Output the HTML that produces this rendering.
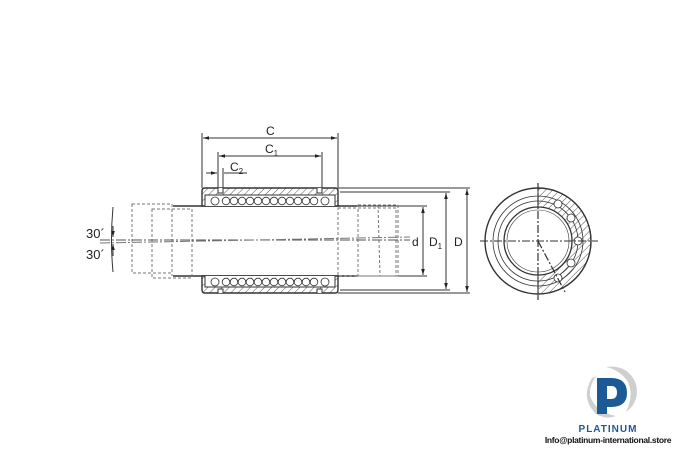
<!DOCTYPE html>
<html><head><meta charset="utf-8"><style>
html,body{margin:0;padding:0;background:#fff}
svg{display:block}
text{font-family:"Liberation Sans",sans-serif;fill:#222}
</style></head><body>
<svg width="675" height="450" viewBox="0 0 675 450" xmlns="http://www.w3.org/2000/svg">
<defs>
<pattern id="h" width="5" height="5" patternUnits="userSpaceOnUse" patternTransform="rotate(45)">
<rect width="5" height="5" fill="#fff"/><line x1="0" y1="0" x2="0" y2="5" stroke="#555" stroke-width="1"/></pattern>
<marker id="a" viewBox="0 0 10 10" refX="10" refY="5" markerWidth="6" markerHeight="6" orient="auto-start-reverse"><path d="M0,2 L10,5 L0,8z" fill="#222"/></marker>
</defs>
<g stroke="#333" fill="none" stroke-width="1">
<line x1="202" y1="133" x2="202" y2="188"/><line x1="338" y1="133" x2="338" y2="188"/>
<line x1="203" y1="138" x2="337" y2="138" marker-start="url(#a)" marker-end="url(#a)"/>
<line x1="218" y1="152" x2="218" y2="190"/><line x1="322" y1="152" x2="322" y2="188"/>
<line x1="219" y1="156" x2="321" y2="156" marker-start="url(#a)" marker-end="url(#a)"/>
<line x1="223" y1="168" x2="223" y2="190"/>
<line x1="206" y1="173" x2="217" y2="173" marker-end="url(#a)"/>
<line x1="224" y1="173" x2="247" y2="173"/>
<line x1="338" y1="188" x2="470" y2="188"/><line x1="338" y1="293" x2="470" y2="293"/>
<line x1="340" y1="192" x2="450" y2="192"/><line x1="340" y1="290" x2="450" y2="290"/>
<line x1="357" y1="206" x2="427" y2="206"/><line x1="357" y1="276" x2="427" y2="276"/>
<line x1="467" y1="189" x2="467" y2="292" marker-start="url(#a)" marker-end="url(#a)"/>
<line x1="446" y1="193" x2="446" y2="289" marker-start="url(#a)" marker-end="url(#a)"/>
<line x1="423" y1="207" x2="423" y2="275" marker-start="url(#a)" marker-end="url(#a)"/>
<line x1="173" y1="206" x2="357" y2="206" stroke-width="1.6"/>
<line x1="173" y1="276" x2="357" y2="276" stroke-width="1.6"/>
<g stroke-dasharray="3,2" stroke="#777">
<rect x="132" y="204" width="40" height="69"/>
<rect x="152" y="209" width="40" height="69"/>
<line x1="172" y1="209" x2="172" y2="276"/>
<rect x="358" y="205" width="40" height="71"/>
<rect x="338" y="208" width="58" height="68"/>
<line x1="378" y1="205" x2="380" y2="276"/>
</g>
<line x1="100" y1="240" x2="410" y2="240" stroke-dasharray="10,2,2,2" stroke="#555"/>
<line x1="100" y1="243" x2="410" y2="237" stroke-dasharray="10,2,2,2" stroke="#777"/>
<path d="M113 207 Q110 240 113 272" />
<line x1="113" y1="226" x2="113" y2="237" marker-end="url(#a)"/>
<line x1="113" y1="256" x2="113" y2="244" marker-end="url(#a)"/>
<path d="M205 188 H335 Q338 188 338 191 V206 H202 V191 Q202 188 205 188Z" fill="url(#h)" stroke-width="1.4"/>
<path d="M205 206 V195 H335 V206" fill="#fff"/>
<path d="M218 188 V193 H223 V188" fill="#fff"/>
<path d="M322 188 V193 H317 V188" fill="#fff"/>
<path d="M202 276 H338 V290 Q338 293 335 293 H205 Q202 293 202 290Z" fill="url(#h)" stroke-width="1.4"/>
<path d="M205 276 V287 H335 V276" fill="#fff"/>
<path d="M218 293 V289 H223 V293" fill="#fff"/>
<path d="M322 293 V289 H317 V293" fill="#fff"/>
<g stroke-width="0.8">
<circle cx="215" cy="201" r="4"/><circle cx="226" cy="201" r="3.8"/><circle cx="234" cy="201" r="3.8"/><circle cx="242" cy="201" r="3.8"/><circle cx="250" cy="201" r="3.8"/><circle cx="258" cy="201" r="3.8"/><circle cx="266" cy="201" r="3.8"/><circle cx="274" cy="201" r="3.8"/><circle cx="282" cy="201" r="3.8"/><circle cx="290" cy="201" r="3.8"/><circle cx="298" cy="201" r="3.8"/><circle cx="306" cy="201" r="3.8"/><circle cx="314" cy="201" r="3.8"/><circle cx="325" cy="201" r="4"/>
<circle cx="215" cy="282" r="4"/><circle cx="226" cy="282" r="3.8"/><circle cx="234" cy="282" r="3.8"/><circle cx="242" cy="282" r="3.8"/><circle cx="250" cy="282" r="3.8"/><circle cx="258" cy="282" r="3.8"/><circle cx="266" cy="282" r="3.8"/><circle cx="274" cy="282" r="3.8"/><circle cx="282" cy="282" r="3.8"/><circle cx="290" cy="282" r="3.8"/><circle cx="298" cy="282" r="3.8"/><circle cx="306" cy="282" r="3.8"/><circle cx="314" cy="282" r="3.8"/><circle cx="325" cy="282" r="4"/>
</g>
<path d="M538 188 A53 53 0 0 1 538 294 Z" fill="url(#h)"/>
<circle cx="538" cy="241" r="53" stroke-width="1.4"/>
<circle cx="538" cy="241" r="45" stroke-width="0.8"/>
<circle cx="538" cy="241" r="40" stroke-width="0.8"/>
<circle cx="538" cy="241" r="34" fill="#fff" stroke-width="1.3"/>
<circle cx="538" cy="241" r="31" stroke-width="0.6"/>
<g fill="#fff" stroke-width="0.8">
<circle cx="558" cy="204" r="4"/><circle cx="571" cy="218" r="4"/><circle cx="578" cy="241" r="4"/><circle cx="571" cy="263" r="4"/><circle cx="558" cy="278" r="4"/>
</g>
<line x1="480" y1="241" x2="598" y2="241" stroke-dasharray="8,2,2,2"/>
<line x1="538" y1="183" x2="538" y2="300" stroke-dasharray="8,2,2,2" stroke-width="1.2"/>
<line x1="538" y1="241" x2="565" y2="292" stroke-dasharray="8,2,2,2" stroke-width="1.2"/>
</g>
<text x="266" y="135" font-size="12">C</text>
<text x="265" y="153" font-size="12">C<tspan font-size="8" dy="3">1</tspan></text>
<text x="230" y="171" font-size="12">C<tspan font-size="8" dy="3">2</tspan></text>
<text x="412" y="246" font-size="12">d</text>
<text x="429" y="246" font-size="12">D<tspan font-size="8" dy="3">1</tspan></text>
<text x="454" y="246" font-size="12">D</text>
<text x="86" y="238" font-size="13">30´</text>
<text x="86" y="259" font-size="13">30´</text>
<!-- logo -->
<path d="M592 378 Q580 398 596 414 Q606 420 616 416 Q596 412 590 396 Q589 386 596 376 Z" fill="#cfcfcf"/>
<path d="M606 367 Q628 364 636 384 Q640 402 626 412 Q634 396 628 382 Q620 370 606 367 Z" fill="#cfcfcf"/>
<path d="M597 378 H611 Q627 378 627 393 Q627 407 611 407 H607 V414 H597 Z M607 386 V399 H611 Q617 399 617 392.5 Q617 386 611 386 Z" fill="#1c5a96" fill-rule="evenodd"/>
<text x="608" y="432" font-size="10" font-weight="bold" text-anchor="middle" style="fill:#1c5a96;letter-spacing:1px">PLATINUM</text>
<text x="608" y="443" font-size="8.5" font-weight="bold" text-anchor="middle" style="fill:#111;letter-spacing:-0.3px">Info@platinum-international.store</text>
</svg>
</body></html>
